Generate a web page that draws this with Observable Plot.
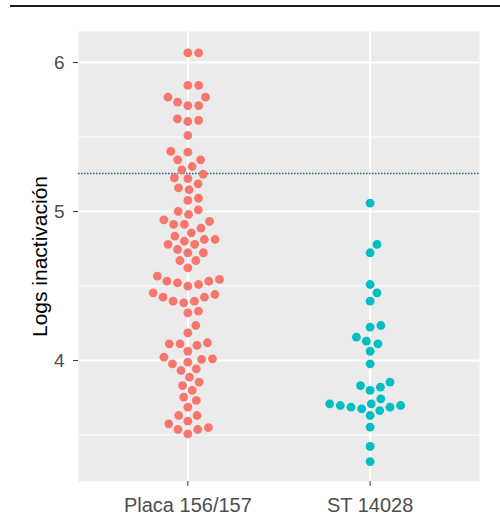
<!DOCTYPE html>
<html><head><meta charset="utf-8">
<script src="https://cdn.jsdelivr.net/npm/d3@7"></script>
<script src="https://cdn.jsdelivr.net/npm/@observablehq/plot@0.6"></script>
<style>
body{margin:0;background:#fff;}
#wrap{position:relative;width:500px;height:529px;}
#topline{position:absolute;left:10px;right:0;top:5px;height:0;border-top:2px solid #1a1a1a;}
#chart svg{display:block;}
</style></head><body>
<div id="wrap"><div id="topline"></div><div id="chart"></div></div>
<script>
const categories = ["Placa 156/157", "ST 14028"];
const placaValues = [6.065, 6.065, 5.846, 5.846, 5.767, 5.767, 5.734, 5.711, 5.711, 5.611, 5.604, 5.622, 5.51, 5.398, 5.403, 5.347, 5.347, 5.28, 5.302, 5.25, 5.226, 5.22, 5.186, 5.159, 5.146, 5.089, 5.074, 4.98, 5.0, 5.011, 4.913, 4.913, 4.944, 4.933, 4.889, 4.835, 4.857, 4.779, 4.801, 4.779, 4.812, 4.812, 4.745, 4.723, 4.723, 4.671, 4.671, 4.622, 4.566, 4.532, 4.521, 4.499, 4.51, 4.532, 4.544, 4.454, 4.425, 4.398, 4.387, 4.425, 4.398, 4.443, 4.32, 4.331, 4.235, 4.186, 4.119, 4.112, 4.101, 4.112, 4.062, 4.007, 3.989, 3.978, 4.022, 4.011, 3.933, 3.944, 3.888, 3.799, 3.832, 3.855, 3.732, 3.754, 3.687, 3.631, 3.631, 3.593, 3.575, 3.55, 3.537, 3.508, 3.537];
const stValues = [5.056, 4.779, 4.723, 4.51, 4.454, 4.398, 4.235, 4.224, 4.157, 4.13, 4.112, 4.062, 3.978, 3.855, 3.832, 3.821, 3.799, 3.743, 3.709, 3.709, 3.698, 3.698, 3.687, 3.687, 3.676, 3.664, 3.631, 3.553, 3.423, 3.322];
const thresholdValue = 5.255;
const yTicks = [4, 5, 6];
const yMinorTicks = [3.5, 4.5, 5.5];
const yDomain = [3.188, 6.208];
const xPositions = [1, 2];
const xDomain = [0.4, 2.6];
const groupColors = ["#F8766D", "#00BFC4"];
const yTitle = "Logs inactivación";

const W = 500, H = 529, mL = 78, mR = 21, mT = 31, mB = 48;
const dotR = 4.4, dotGap = 2;
const pxPerX = (W - mL - mR) / (xDomain[1] - xDomain[0]);
const pxPerY = (H - mT - mB) / (yDomain[1] - yDomain[0]);

// beeswarm layout (greedy, closest to the category centre)
function swarmOffsets(values) {
  const order = d3.range(values.length).sort((a, b) => values[a] - values[b]);
  const placed = [];
  const out = new Array(values.length);
  const d = 2 * dotR + dotGap;
  for (const i of order) {
    const y = values[i] * pxPerY;
    const near = placed.filter(p => Math.abs(p.y - y) < d);
    const cands = [0];
    for (const p of near) {
      const dx = Math.sqrt(d * d - (p.y - y) ** 2);
      cands.push(p.x + dx, p.x - dx);
    }
    cands.sort((a, b) => Math.abs(a) - Math.abs(b) || b - a);
    const x = cands.find(c => near.every(p => (p.x - c) ** 2 + (p.y - y) ** 2 >= d * d - 1e-6));
    placed.push({x, y});
    out[i] = x / pxPerX;
  }
  return out;
}

const groups = [placaValues, stValues];
const points = groups.flatMap((vals, gi) => {
  const off = swarmOffsets(vals);
  return vals.map((v, i) => ({group: categories[gi], x: xPositions[gi] + off[i], value: v}));
});

const font = "'Liberation Sans', Arial, sans-serif";

const chart = Plot.plot({
  width: W, height: H,
  marginLeft: mL, marginRight: mR, marginTop: mT, marginBottom: mB,
  style: {fontFamily: font, background: "transparent"},
  x: {domain: xDomain, label: null},
  y: {domain: yDomain, label: null},
  color: {domain: categories, range: groupColors},
  marks: [
    Plot.frame({fill: "#EBEBEB"}),
    Plot.ruleY(yMinorTicks, {stroke: "white", strokeWidth: 1}),
    Plot.ruleY(yTicks, {stroke: "white", strokeWidth: 2}),
    Plot.ruleX(xPositions, {stroke: "white", strokeWidth: 2}),
    Plot.ruleY([thresholdValue], {stroke: "#24617f", strokeWidth: 1.5, strokeDasharray: "1.5,1.5"}),
    Plot.dot(points, {x: "x", y: "value", r: dotR, fill: "group"}),
    Plot.axisY(yTicks, {tickSize: 5, tickPadding: 9, fontSize: 19, fill: "#4D4D4D", stroke: "#333333", label: null, tickFormat: d => String(d)}),
    Plot.axisY([], {tickSize: 0, fontSize: 21, fill: "black", label: yTitle, labelAnchor: "center", labelOffset: 46, labelArrow: "none"}),
    Plot.axisX(xPositions, {tickSize: 5, tickPadding: 11, fontSize: 20, fill: "#4D4D4D", stroke: "#333333", label: null, tickFormat: d => categories[d - 1]})
  ]
});
document.getElementById("chart").appendChild(chart);
</script>
</body></html>
